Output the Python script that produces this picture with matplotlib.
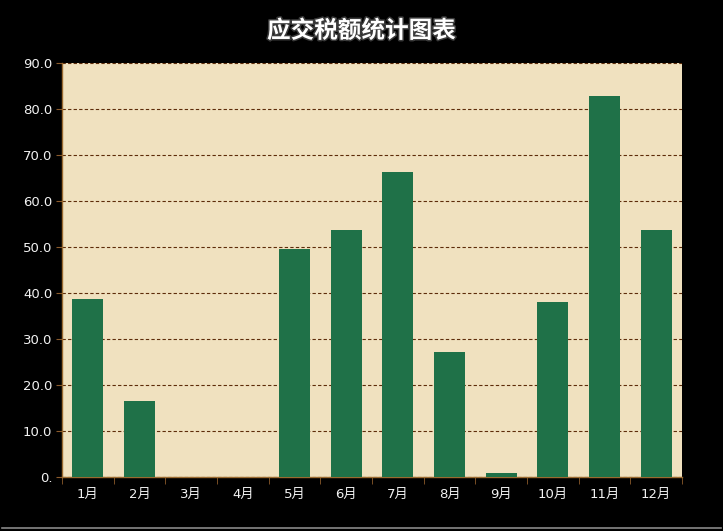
import matplotlib
matplotlib.use("Agg")
import matplotlib.pyplot as plt
import matplotlib.patheffects as pe
import numpy as np

plt.rcParams['font.family'] = ['DejaVu Sans', 'Noto Sans CJK SC']

months = ['1月', '2月', '3月', '4月', '5月', '6月', '7月', '8月', '9月', '10月', '11月', '12月']
values = [38.7, 16.5, 0, 0, 49.6, 53.7, 66.3, 27.2, 0.9, 38.0, 82.8, 53.7]
yticks = [0, 10, 20, 30, 40, 50, 60, 70, 80, 90]
ylabels = ['0.', '10.0', '20.0', '30.0', '40.0', '50.0', '60.0', '70.0', '80.0', '90.0']
title = '应交税额统计图表'

fig = plt.figure(figsize=(7.23, 5.31), dpi=100, facecolor='black')
ax = fig.add_axes([0.0858, 0.1017, 0.8575, 0.7797])
ax.set_facecolor('#F0E1BF')

x = np.arange(len(months))
ax.bar(x, values, width=0.6, color='#1F7148', zorder=3)

ax.set_xlim(-0.5, len(months) - 0.5)
ax.set_ylim(0, 90)
ax.set_yticks(yticks)
ax.set_yticklabels(ylabels)
ax.set_xticks(x)
ax.set_xticklabels(months)
ax.set_xticks(np.arange(-0.5, len(months), 1), minor=True)

ax.grid(axis='y', linestyle=(0, (3, 2)), color='#5E2C0A', linewidth=0.8, zorder=1)
ax.tick_params(axis='x', which='major', length=0, labelsize=9.5, pad=8)
ax.tick_params(axis='x', which='minor', length=5, color='#8B5A2B', direction='out')
ax.tick_params(axis='y', length=4, color='#8B5A2B', labelsize=9.5, pad=3)
for lab in ax.get_xticklabels() + ax.get_yticklabels():
    lab.set_color('#F2F2F2')

for s in ['top', 'right']:
    ax.spines[s].set_visible(False)
for s in ['left', 'bottom']:
    ax.spines[s].set_color('#9A6A30')
    ax.spines[s].set_linewidth(1.0)

fig.text(0.5, 0.942, title, ha='center', va='center', color='white',
         fontsize=17, fontweight='heavy', family=['Noto Sans CJK SC', 'DejaVu Sans'],
         path_effects=[pe.withStroke(linewidth=2.2, foreground='#3A3A3A')])

fig.add_artist(plt.Line2D([0.003, 0.997], [0.006, 0.006], color='#888888', linewidth=1.2,
                          transform=fig.transFigure))

fig.savefig('out.png', dpi=100, facecolor='black')
